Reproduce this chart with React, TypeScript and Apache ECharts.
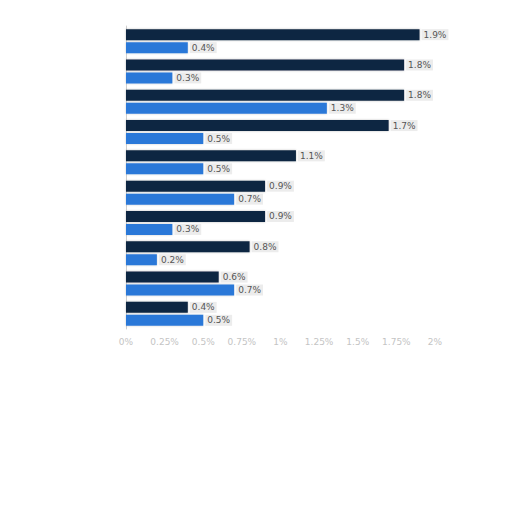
import { useEffect, useRef } from 'react';
import * as echarts from 'echarts';

const categories = ['A', 'B', 'C', 'D', 'E', 'F', 'G', 'H', 'I', 'J'];
const darkValues = [1.9, 1.8, 1.8, 1.7, 1.1, 0.9, 0.9, 0.8, 0.6, 0.4];
const blueValues = [0.4, 0.3, 1.3, 0.5, 0.5, 0.7, 0.3, 0.2, 0.7, 0.5];
const tickLabels = ['0%', '0.25%', '0.5%', '0.75%', '1%', '1.25%', '1.5%', '1.75%', '2%'];

function App() {
  const chartRef = useRef<HTMLDivElement>(null);

  useEffect(() => {
    if (!chartRef.current) return;
    const chart = echarts.init(chartRef.current, null, { renderer: 'svg' });

    const valueLabel = {
      show: true,
      position: 'right' as const,
      distance: 2,
      fontSize: 9,
      fontFamily: 'DejaVu Sans',
      color: '#555',
      backgroundColor: '#ececec',
      padding: [1, 2],
      formatter: (p: { value: number }) => `${p.value}%`,
    };

    chart.setOption({
      animation: false,
      grid: { left: 118, right: 69, top: 18, bottom: 175 },
      xAxis: {
        type: 'value',
        min: 0,
        max: 2,
        interval: 0.25,
        splitLine: { show: false },
        axisLine: { show: false },
        axisTick: { show: false },
        axisLabel: {
          fontSize: 9,
          fontFamily: 'DejaVu Sans',
          color: '#c4c4c4',
          margin: 8,
          formatter: (v: number) => tickLabels[Math.round(v / 0.25)] ?? '',
        },
      },
      yAxis: {
        type: 'category',
        data: categories,
        inverse: true,
        axisLine: { show: true, lineStyle: { color: '#cfcfcf', width: 1 } },
        axisTick: { show: false },
        axisLabel: { show: false },
      },
      series: [
        {
          name: 'dark',
          type: 'bar',
          data: darkValues,
          barWidth: 11,
          barGap: '18%',
          barCategoryGap: '21%',
          itemStyle: {
            color: '#112642',
            shadowColor: 'rgba(0,0,0,0.25)',
            shadowBlur: 2,
          },
          label: valueLabel,
        },
        {
          name: 'blue',
          type: 'bar',
          data: blueValues,
          barWidth: 11,
          itemStyle: {
            color: '#2b78d8',
            shadowColor: 'rgba(0,0,0,0.2)',
            shadowBlur: 2,
          },
          label: valueLabel,
        },
      ],
    });

    return () => chart.dispose();
  }, []);

  return <div ref={chartRef} style={{ width: '496px', height: '496px' }} />;
}

export default App;
